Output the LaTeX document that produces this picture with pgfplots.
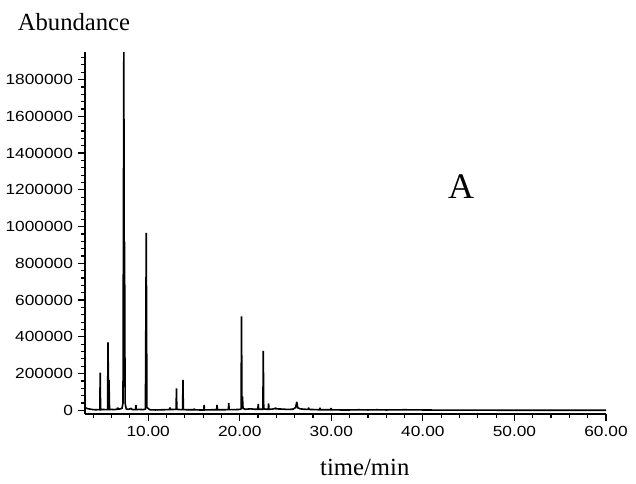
\documentclass[border=0pt]{standalone}
\usepackage{fontspec}
\setmainfont{Liberation Serif}
\newfontfamily\tickfont{Liberation Sans}[FakeStretch=1.18]
\usepackage{pgfplots}
\pgfplotsset{compat=1.18}
\usetikzlibrary{calc}

\begin{document}
\begin{tikzpicture}
\begin{axis}[
    scale only axis,
    width=390.75pt, height=271.5pt,
    xmin=3.1, xmax=60, ymin=-20000, ymax=1950000,
    axis x line=bottom, axis y line=left,
    axis line style={-, line width=1.2pt},
    clip mode=individual,
    xtick={10,20,...,60}, minor xtick={4,6,...,58},
    ytick={0,200000,...,1800000}, minor ytick={0,40000,...,1920000},
    scaled y ticks=false,
    tick align=outside, major tick length=5.5pt, minor tick length=3pt,
    tick style={black, line width=0.9pt},
    yticklabel style={font=\tickfont\fontsize{11}{13}\selectfont,
        /pgf/number format/fixed,
        /pgf/number format/precision=0,
        /pgf/number format/1000 sep={},
        /pgf/number format/assume math mode=true},
    xticklabel style={font=\tickfont\fontsize{11}{13}\selectfont,
        /pgf/number format/fixed,
        /pgf/number format/fixed zerofill,
        /pgf/number format/precision=2,
        /pgf/number format/assume math mode=true},
  ]
  \addplot[black, line width=1.2pt, sharp plot, no marks, line join=miter, miter limit=2] coordinates {
    (3.10,14000) (3.40,9000) (3.70,6000) (4.00,4000) (4.30,3000) (4.60,4000)
    (4.72,3000) (4.76,205000) (4.80,3000) (5.00,5000) (5.30,4000)
    (5.57,4000) (5.61,370000) (5.66,150000) (5.72,165000) (5.78,4000)
    (6.00,5000) (6.30,4000) (6.60,6000) (6.67,15000) (6.74,6000)
    (7.00,8000) (7.15,12000) (7.25,40000) (7.34,1950000) (7.38,900000)
    (7.42,915000) (7.48,40000) (7.60,8000) (7.80,5000) (8.13,10000)
    (8.20,5000) (8.40,4000) (8.62,4000) (8.66,30000) (8.70,4000)
    (9.00,5000) (9.40,4000) (9.70,6000) (9.79,965000) (9.86,15000)
    (10.2,3000) (10.8,2000) (11.5,3000) (12.3,4000) (12.38,15000)
    (12.46,4000) (12.9,5000) (13.05,5000) (13.09,120000) (13.13,5000)
    (13.5,4000) (13.76,4000) (13.80,166000) (13.84,4000) (14.3,3000)
    (15.0,3000) (15.04,9000) (15.08,3000) (15.6,2000) (16.07,2000)
    (16.11,30000) (16.15,2000) (17.0,3000) (17.48,3000) (17.52,30000)
    (17.56,3000) (18.3,3000) (18.76,4000) (18.80,40000) (18.84,4000)
    (19.5,4000) (20.0,5000) (20.15,8000) (20.19,511000) (20.24,60000)
    (20.30,75000) (20.36,10000) (20.6,6000) (21.2,8000) (21.6,6000)
    (21.98,6000) (22.02,35000) (22.06,6000) (22.3,6000) (22.53,6000)
    (22.57,324000) (22.62,8000) (22.9,6000) (23.11,6000) (23.15,38000)
    (23.19,6000) (23.6,7000) (23.88,10000) (23.92,15000) (23.96,8000)
    (24.5,7000) (25.2,5000) (25.8,6000) (26.1,15000) (26.23,46000)
    (26.33,14000) (26.6,8000) (27.0,6000) (27.48,5000) (27.52,15000)
    (27.56,5000) (28.2,4000) (28.72,3000) (28.76,14000) (28.80,3000)
    (29.4,3000) (29.93,3000) (29.97,12000) (30.01,3000) (31,2000)
    (32,2000) (33,3000) (34,2000) (35,3000) (36,2000) (38,3000)
    (40,2000) (42,1000) (45,1000) (50,500) (55,500) (60,500)
  };
  \coordinate (sw) at (rel axis cs:0,0);
  \coordinate (ne) at (rel axis cs:1,1);
  \node[anchor=west, font=\fontsize{18.5}{20}\selectfont] at (rel axis cs:-0.138,1.083) {Abundance};
  \node[font=\fontsize{18.5}{20}\selectfont] at (rel axis cs:0.537,-0.149) {time/min};
  \node[font=\fontsize{27}{30}\selectfont] at (rel axis cs:0.722,0.627) {A};
\end{axis}
\pgfresetboundingbox
\path[use as bounding box] ($(sw)+(-63.75pt,-51.75pt)$) rectangle ($(ne)+(22.5pt,39pt)$);
\end{tikzpicture}
\end{document}
